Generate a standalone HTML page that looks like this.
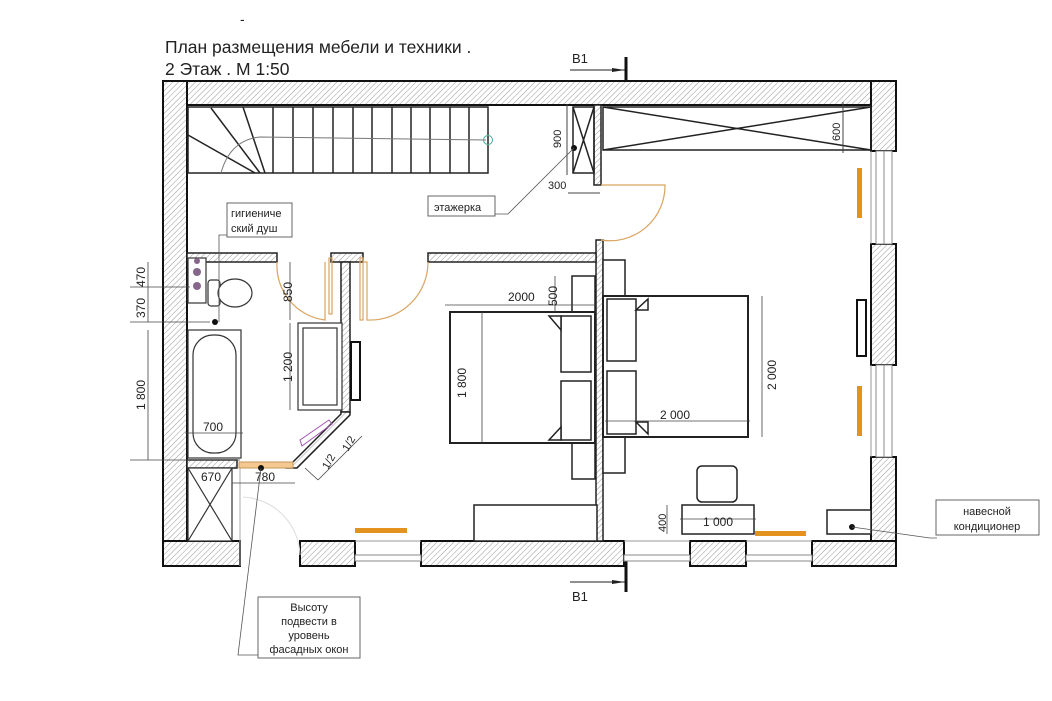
<!DOCTYPE html>
<html><head><meta charset="utf-8"><style>
html,body{margin:0;padding:0;background:#fff}
svg{display:block}
text{font-family:"Liberation Sans",sans-serif;fill:#222}
</style></head><body>
<svg width="1052" height="701" viewBox="0 0 1052 701" xmlns="http://www.w3.org/2000/svg">
<defs>
<pattern id="h" width="4" height="4" patternUnits="userSpaceOnUse" patternTransform="rotate(45)">
<rect width="4" height="4" fill="#fff"/><line x1="0" y1="0" x2="0" y2="4" stroke="#999" stroke-width="1"/>
</pattern>
</defs>
<text x="240" y="24" font-size="14">-</text>
<text x="165" y="53" font-size="17.5">План размещения мебели и техники .</text>
<text x="165" y="75" font-size="17.5">2 Этаж .  M 1:50</text>
<!-- section marks -->
<text x="572" y="63" font-size="13">B1</text>
<line x1="570" y1="70" x2="625" y2="70" stroke="#222"/><polygon points="612,68 625,70 612,72" fill="#222"/>
<line x1="626" y1="57" x2="626" y2="92" stroke="#111" stroke-width="3"/>
<text x="572" y="601" font-size="13">B1</text>
<line x1="570" y1="582" x2="625" y2="582" stroke="#222"/><polygon points="612,580 625,582 612,584" fill="#222"/>
<line x1="626" y1="556" x2="626" y2="592" stroke="#111" stroke-width="3"/>

<g fill="url(#h)" stroke="#111" stroke-width="2">
<rect x="163" y="81" width="733" height="24"/>
<rect x="163" y="81" width="24" height="485"/>
<rect x="871" y="81" width="25" height="70"/>
<rect x="871" y="244" width="25" height="121"/>
<rect x="871" y="457" width="25" height="109"/>
<rect x="163" y="541" width="77" height="25"/>
<rect x="300" y="541" width="55" height="25"/>
<rect x="421" y="541" width="203" height="25"/>
<rect x="690" y="541" width="56" height="25"/>
<rect x="812" y="541" width="84" height="25"/>
</g>
<g fill="url(#h)" stroke="#222" stroke-width="1.5">
<rect x="594" y="105" width="7" height="80"/>
<rect x="596" y="240" width="7" height="301"/>
<rect x="187" y="253" width="90" height="9"/>
<rect x="331" y="253" width="32" height="9"/>
<rect x="428" y="253" width="168" height="9"/>
<rect x="341" y="262" width="9" height="150"/>
<polygon points="341,412 350,412 350,415 297,468 287,468 341,414"/>
<rect x="187" y="460" width="50" height="8"/>
</g>
<!-- windows -->
<g fill="#fff" stroke="#888" stroke-width="1">
<rect x="876" y="151" width="16" height="93"/><line x1="884" y1="151" x2="884" y2="244"/>
<rect x="876" y="365" width="16" height="92"/><line x1="884" y1="365" x2="884" y2="457"/>
<rect x="355" y="555" width="66" height="6"/>
<rect x="624" y="555" width="66" height="6"/>
<rect x="746" y="555" width="66" height="6"/>
</g>
<line x1="871" y1="151" x2="871" y2="244" stroke="#999"/>
<line x1="871" y1="365" x2="871" y2="457" stroke="#999"/>
<line x1="355" y1="541" x2="421" y2="541" stroke="#999"/>
<line x1="624" y1="541" x2="690" y2="541" stroke="#999"/>
<line x1="746" y1="541" x2="812" y2="541" stroke="#999"/>

<!-- stairs -->
<g stroke="#222" stroke-width="1.5" fill="none">
<rect x="188" y="107" width="300" height="66"/>
<line x1="273" y1="107" x2="273" y2="173"/>
<line x1="293" y1="107" x2="293" y2="173"/>
<line x1="313" y1="107" x2="313" y2="173"/>
<line x1="333" y1="107" x2="333" y2="173"/>
<line x1="353" y1="107" x2="353" y2="173"/>
<line x1="372" y1="107" x2="372" y2="173"/>
<line x1="392" y1="107" x2="392" y2="173"/>
<line x1="411" y1="107" x2="411" y2="173"/>
<line x1="430" y1="107" x2="430" y2="173"/>
<line x1="450" y1="107" x2="450" y2="173"/>
<line x1="469" y1="107" x2="469" y2="173"/>
<line x1="211" y1="108" x2="260" y2="173"/>
<line x1="243" y1="107" x2="265" y2="173"/>
<line x1="188" y1="135" x2="255" y2="173"/>
</g>
<path d="M221,173 Q230,140 260,137 L486,140" stroke="#777" fill="none"/>
<circle cx="488" cy="140" r="4.5" stroke="#4a9" fill="none"/>
<g stroke="#222" stroke-width="1.5" fill="none">
<rect x="573" y="107" width="21" height="66"/>
<line x1="573" y1="107" x2="594" y2="173"/><line x1="594" y1="107" x2="573" y2="173"/>
<rect x="603" y="107" width="268" height="43"/>
<line x1="603" y1="107" x2="871" y2="150"/><line x1="603" y1="150" x2="871" y2="107"/>
</g>
<circle cx="574" cy="148" r="3" fill="#111"/>
<text x="0" y="0" font-size="11" transform="translate(561,148) rotate(-90)">900</text>
<line x1="567" y1="104" x2="567" y2="175" stroke="#444"/>
<text x="548" y="189" font-size="11">300</text>
<line x1="568" y1="193" x2="600" y2="193" stroke="#444"/>
<text x="0" y="0" font-size="11" transform="translate(840,141) rotate(-90)">600</text>
<line x1="843" y1="102" x2="843" y2="153" stroke="#444"/>

<!-- doors -->
<g stroke="#d9a460" fill="none" stroke-width="1.2">
<path d="M601,185 L665,185 A55,55 0 0 1 601,240"/>
<path d="M277,262 A55,55 0 0 0 325,320 L325,262"/>
<path d="M363,262 L367,262 L367,320 A58,58 0 0 0 428,262"/>
<rect x="329" y="258" width="3" height="56"/>
<rect x="360" y="258" width="3" height="62"/>
</g>
<path d="M240,566 L240,468" stroke="#aaa" fill="none"/>
<path d="M243,497 A60,60 0 0 1 300,555" stroke="#ddd" fill="none"/>
<rect x="239" y="462" width="54" height="6" fill="#f3c98f" stroke="#c8955a"/>
<!-- bathroom -->
<g stroke="#333" stroke-width="1.2" fill="#fff">
<rect x="188" y="258" width="18" height="45"/>
<rect x="188" y="330" width="53" height="128"/>
<rect x="193" y="335" width="43" height="118" rx="20"/>
<rect x="298" y="323" width="44" height="87"/>
<rect x="303" y="328" width="34" height="77"/>
<rect x="208" y="280" width="12" height="26" rx="3"/>
<ellipse cx="235" cy="293" rx="17" ry="14"/>
<rect x="188" y="468" width="44" height="73"/>
<line x1="188" y1="468" x2="232" y2="541"/><line x1="232" y1="468" x2="188" y2="541"/>
</g>
<g fill="#86668a"><circle cx="197" cy="261" r="3"/><circle cx="197" cy="272" r="4"/><circle cx="197" cy="286" r="4"/></g>
<circle cx="215" cy="322" r="3" fill="#111"/>
<polygon points="300,440 329,420 332,424 302,446" fill="none" stroke="#a050b0"/>
<rect x="351" y="342" width="9" height="58" fill="#fff" stroke="#111" stroke-width="2"/>
<rect x="857" y="300" width="9" height="56" fill="#fff" stroke="#111" stroke-width="2"/>
<g stroke="#222" stroke-width="1.5" fill="#fff">
<rect x="572" y="276" width="23" height="36"/>
<rect x="572" y="443" width="23" height="36"/>
<rect x="450" y="312" width="145" height="131" stroke-width="2"/>
<rect x="561" y="316" width="30" height="56"/>
<rect x="561" y="381" width="30" height="59"/>
<polygon points="549,316 561,316 561,330"/><polygon points="549,440 561,440 561,427"/>
<rect x="474" y="505" width="123" height="36"/>
<rect x="603" y="260" width="22" height="36"/>
<rect x="603" y="437" width="22" height="36"/>
<rect x="603" y="296" width="145" height="141" stroke-width="2"/>
<rect x="607" y="299" width="29" height="62"/>
<rect x="607" y="371" width="29" height="63"/>
<polygon points="636,310 648,299 648,310"/><polygon points="636,422 648,434 648,422"/>
<rect x="697" y="466" width="40" height="36" rx="5"/>
<rect x="682" y="505" width="72" height="29"/>
<rect x="827" y="510" width="44" height="24"/>
</g>
<circle cx="852" cy="527" r="3" fill="#111"/>
<g fill="#e3921e">
<rect x="355" y="528" width="52" height="5"/>
<rect x="755" y="531" width="51" height="5"/>
<rect x="857" y="168" width="5" height="50"/>
<rect x="857" y="386" width="5" height="50"/>
</g>
<g stroke="#444" stroke-width="0.8" fill="none">
<line x1="445" y1="305" x2="596" y2="305"/>
<line x1="482" y1="312" x2="482" y2="443"/>
<line x1="555" y1="276" x2="555" y2="312"/>
<line x1="762" y1="296" x2="762" y2="437"/>
<line x1="605" y1="421" x2="750" y2="421"/>
<line x1="667" y1="505" x2="667" y2="534"/>
<line x1="680" y1="519" x2="756" y2="519"/>
<line x1="290" y1="262" x2="290" y2="320"/>
<line x1="290" y1="323" x2="290" y2="410"/>
<line x1="148" y1="262" x2="148" y2="322"/>
<line x1="148" y1="330" x2="148" y2="460"/>
<line x1="130" y1="287" x2="190" y2="287"/>
<line x1="130" y1="322" x2="210" y2="322"/>
<line x1="130" y1="460" x2="240" y2="460"/>
<line x1="185" y1="433" x2="243" y2="433"/>
<line x1="232" y1="483" x2="295" y2="483"/>
<line x1="318" y1="480" x2="362" y2="436"/>
<line x1="305" y1="468" x2="318" y2="480"/>
</g>
<text x="508" y="301" font-size="12">2000</text>
<text x="0" y="0" font-size="12" transform="translate(466,398) rotate(-90)">1 800</text>
<text x="0" y="0" font-size="12" transform="translate(557,306) rotate(-90)">500</text>
<text x="0" y="0" font-size="12" transform="translate(776,390) rotate(-90)">2 000</text>
<text x="660" y="419" font-size="12">2 000</text>
<text x="0" y="0" font-size="11" transform="translate(666,532) rotate(-90)">400</text>
<text x="703" y="526" font-size="12">1 000</text>
<text x="0" y="0" font-size="12" transform="translate(292,302) rotate(-90)">850</text>
<text x="0" y="0" font-size="12" transform="translate(292,382) rotate(-90)">1 200</text>
<text x="0" y="0" font-size="12" transform="translate(145,287) rotate(-90)">470</text>
<text x="0" y="0" font-size="12" transform="translate(145,318) rotate(-90)">370</text>
<text x="0" y="0" font-size="12" transform="translate(145,410) rotate(-90)">1 800</text>
<text x="203" y="431" font-size="12">700</text>
<text x="201" y="481" font-size="12">670</text>
<text x="255" y="481" font-size="12">780</text>
<text x="0" y="0" font-size="11" transform="translate(328,470) rotate(-60)">1/2</text>
<text x="0" y="0" font-size="11" transform="translate(348,452) rotate(-60)">1/2</text>
<circle cx="261" cy="468" r="3" fill="#111"/>
<g stroke="#666" fill="#fff" stroke-width="1">
<rect x="428" y="196" width="67" height="20"/>
<rect x="227" y="203" width="65" height="34"/>
<rect x="936" y="500" width="103" height="35"/>
<rect x="258" y="597" width="102" height="61"/>
</g>
<g stroke="#555" fill="none" stroke-width="0.8">
<polyline points="495,214 508,214 574,148"/>
<polyline points="227,235 219,235 219,322"/>
<polyline points="852,527 930,538 937,538"/>
<polyline points="261,468 238,655 258,655"/>
</g>
<text x="434" y="211" font-size="11">этажерка</text>
<text x="231" y="217" font-size="11">гигиениче</text>
<text x="231" y="232" font-size="11">ский душ</text>
<text x="987" y="515" font-size="11" text-anchor="middle">навесной</text>
<text x="987" y="530" font-size="11" text-anchor="middle">кондиционер</text>
<text x="309" y="611" font-size="11" text-anchor="middle">Высоту</text>
<text x="309" y="625" font-size="11" text-anchor="middle">подвести в</text>
<text x="309" y="639" font-size="11" text-anchor="middle">уровень</text>
<text x="309" y="653" font-size="11" text-anchor="middle">фасадных окон</text>
</svg>
</body></html>
